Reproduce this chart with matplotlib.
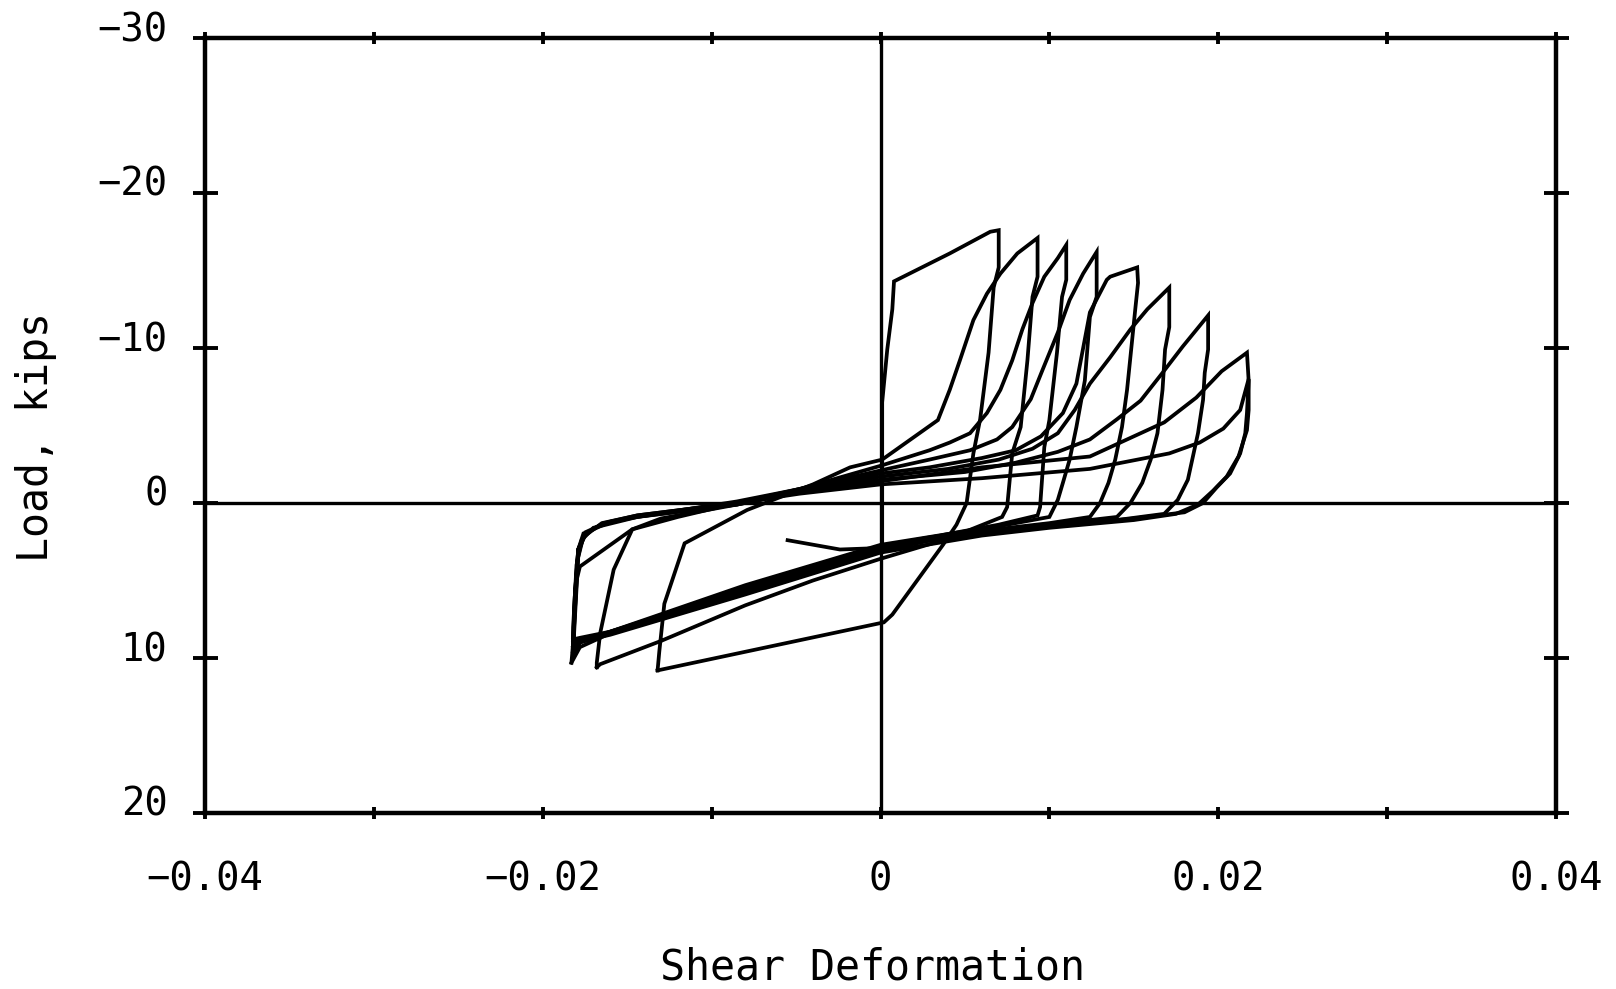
import numpy as np
import matplotlib
matplotlib.use("Agg")
import matplotlib.pyplot as plt
from matplotlib.transforms import ScaledTranslation

# ---- data: shear deformation (x) and load in kips (y), cycle by cycle ----
c1_def  = [-0.0055, -0.0024, 0.0001, 0.0001, 0.0004, 0.0007, 0.0008, 0.0041, 0.0065, 0.0070,
           0.0070, 0.0067, 0.0064, 0.0059, 0.0055, 0.0051, 0.0045, 0.0037, 0.0007, 0.0002, -0.0132]
c1_load = [2.4, 3.0, 2.9, -6.5, -9.9, -12.5, -14.3, -16.1, -17.5, -17.6,
           -15.2, -13.9, -9.7, -5.4, -3.2, 0.0, 1.4, 2.7, 7.2, 7.7, 10.8]

c2_def  = [-0.0132, -0.0131, -0.0128, -0.0116, -0.0079, -0.0040, -0.0018, 0.0001, 0.0034, 0.0041,
           0.0047, 0.0055, 0.0063, 0.0071, 0.0081, 0.0093,
           0.0093, 0.0090, 0.0087, 0.0083, 0.0078, 0.0075, 0.0072,
           0.0040, 0.0000, -0.0040, -0.0080, -0.0130, -0.0166, -0.0168]
c2_load = [10.8, 9.6, 6.5, 2.6, 0.45, -1.2, -2.3, -2.8, -5.35, -7.3,
           -9.2, -11.8, -13.5, -14.8, -16.1, -17.1,
           -14.6, -13.3, -9.2, -4.9, -3.2, 0.26, 0.9,
           2.3, 3.6, 5.0, 6.6, 8.9, 10.4, 10.6]

c3_def  = [-0.0168, -0.0168, -0.0166, -0.0158, -0.0147, -0.0130, -0.0085, -0.0048, 0.0000,
           0.0029, 0.0041, 0.0053, 0.0063, 0.0071, 0.0078, 0.0084, 0.0090, 0.0097, 0.0105, 0.0110,
           0.0110, 0.01075, 0.01045, 0.0100, 0.0097, 0.00945, 0.0093,
           0.0070, 0.0040, 0.0000, -0.0040, -0.0080, -0.0120, -0.0160, -0.0178, -0.0183]
c3_load = [10.6, 10.3, 8.4, 4.3, 1.7, 1.0, 0.1, -0.9, -2.4,
           -3.4, -3.9, -4.5, -5.8, -7.3, -9.2, -11.2, -12.9, -14.6, -15.8, -16.65,
           -14.4, -13.3, -9.7, -5.35, -3.6, 0.26, 0.8,
           1.4, 2.0, 2.9, 4.2, 5.5, 7.0, 8.4, 9.3, 10.3]

c4_def  = [-0.0183, -0.0182, -0.0180, -0.0178, -0.0147, -0.0120, -0.0085, -0.0048, 0.0000,
           0.0029, 0.0053, 0.0069, 0.0078, 0.0089, 0.0096, 0.0105, 0.0112, 0.0120, 0.0128,
           0.0128, 0.0124, 0.0121, 0.0116, 0.0112, 0.0108, 0.0105, 0.0100,
           0.0070, 0.0040, 0.0000, -0.0040, -0.0080, -0.0120, -0.0160, -0.0178, -0.0182]
c4_load = [10.3, 9.0, 5.0, 4.1, 1.7, 0.9, 0.0, -0.9, -2.1,
           -2.8, -3.4, -4.1, -4.9, -6.7, -8.6, -11.0, -13.1, -14.8, -16.2,
           -13.3, -12.0, -7.9, -4.9, -2.8, -1.3, -0.2, 0.9,
           1.5, 2.0, 2.7, 4.0, 5.3, 6.8, 8.3, 9.0, 10.0]

c5_def  = [-0.0182, -0.0182, -0.0180, -0.0177, -0.0170, -0.0144, -0.0085, -0.0048, 0.0000,
           0.0029, 0.0060, 0.0080, 0.0095, 0.0108, 0.0116, 0.0120, 0.0124, 0.0134, 0.0136, 0.0152,
           0.01525, 0.0151, 0.0149, 0.0146, 0.0143, 0.0139, 0.0135, 0.0130, 0.0124,
           0.0100, 0.0060, 0.0030, 0.0000, -0.0040, -0.0080, -0.0120, -0.0160, -0.0178, -0.0182]
c5_load = [10.0, 8.0, 4.0, 2.4, 1.6, 0.9, -0.1, -0.9, -1.9,
           -2.3, -2.9, -3.4, -4.3, -5.8, -7.7, -10.0, -12.3, -14.4, -14.6, -15.2,
           -14.2, -12.65, -10.5, -7.3, -4.9, -2.8, -1.3, 0.0, 0.9,
           1.3, 1.8, 2.2, 2.8, 4.1, 5.4, 6.9, 8.3, 8.9, 9.6]

c6_def  = [-0.0182, -0.0181, -0.0179, -0.0176, -0.0165, -0.0144, -0.0085, -0.0048, 0.0000,
           0.0040, 0.0070, 0.0090, 0.0105, 0.0115, 0.0124, 0.0136, 0.0148, 0.0158, 0.0171,
           0.0171, 0.01685, 0.0167, 0.0164, 0.0160, 0.0155, 0.0148, 0.0140,
           0.0100, 0.0060, 0.0030, 0.0000, -0.0040, -0.0080, -0.0120, -0.0160, -0.0178, -0.0182]
c6_load = [9.6, 7.5, 3.5, 2.2, 1.3, 0.8, 0.0, -0.8, -1.7,
           -2.2, -2.8, -3.5, -4.5, -6.0, -7.7, -9.4, -11.2, -12.5, -13.9,
           -11.35, -9.9, -7.3, -4.5, -2.8, -1.3, 0.0, 0.9,
           1.4, 1.9, 2.3, 2.9, 4.2, 5.6, 7.0, 8.4, 9.0, 9.3]

c7_def  = [-0.0182, -0.0181, -0.0179, -0.0175, -0.0164, -0.0145, -0.0085, -0.0048, 0.0000,
           0.0050, 0.0080, 0.0105, 0.0124, 0.0140, 0.0154, 0.0167, 0.0179, 0.0194,
           0.0194, 0.0192, 0.0191, 0.0188, 0.0185, 0.0182, 0.0176, 0.0168,
           0.0140, 0.0100, 0.0060, 0.0030, 0.0000, -0.0040, -0.0080, -0.0120, -0.0160, -0.0178, -0.0182]
c7_load = [9.3, 7.0, 3.2, 2.0, 1.3, 0.9, 0.1, -0.7, -1.5,
           -2.0, -2.6, -3.3, -4.1, -5.4, -6.6, -8.4, -10.1, -12.1,
           -9.9, -8.4, -6.65, -4.5, -3.0, -1.5, -0.2, 0.7,
           1.1, 1.5, 2.0, 2.4, 3.1, 4.4, 5.7, 7.1, 8.4, 8.9, 9.0]

c8_def  = [-0.0182, -0.0181, -0.0179, -0.0175, -0.0163, -0.0144, -0.0085, -0.0048, 0.0000,
           0.0060, 0.0124, 0.0168, 0.0187, 0.0202, 0.0217,
           0.0218, 0.0217, 0.0216, 0.0213, 0.0207, 0.0199, 0.0191, 0.0180,
           0.0150, 0.0100, 0.0060, 0.0030, 0.0000, -0.0040, -0.0080, -0.0120, -0.0160, -0.0178, -0.0182]
c8_load = [9.0, 6.5, 3.0, 1.9, 1.3, 0.9, 0.1, -0.7, -1.4,
           -2.3, -3.0, -5.2, -6.8, -8.5, -9.7,
           -7.9, -5.8, -4.5, -3.2, -1.9, -1.0, 0.0, 0.6,
           1.0, 1.5, 2.0, 2.4, 3.0, 4.3, 5.6, 7.0, 8.3, 8.7, 8.8]

c9_def  = [-0.0182, -0.0181, -0.0179, -0.0174, -0.0160, -0.0144, -0.0085, -0.0048, 0.0000,
           0.0060, 0.0124, 0.0171, 0.0189, 0.0203, 0.0213, 0.0218,
           0.0218, 0.0217, 0.0212, 0.0205, 0.0197, 0.0188, 0.0175,
           0.0150, 0.0100, 0.0060, 0.0000, -0.0080, -0.0160, -0.0180, -0.0182,
           -0.0181, -0.0179, -0.0176]
c9_load = [8.8, 6.0, 3.0, 1.9, 1.2, 0.8, 0.0, -0.6, -1.2,
           -1.6, -2.2, -3.2, -3.9, -4.8, -6.0, -8.0,
           -6.0, -4.7, -3.0, -1.7, -0.8, 0.1, 0.7,
           1.1, 1.6, 2.1, 3.2, 5.9, 8.5, 9.0, 9.4,
           6.0, 3.0, 2.0]

cycles = [(c1_def, c1_load), (c2_def, c2_load), (c3_def, c3_load), (c4_def, c4_load),
          (c5_def, c5_load), (c6_def, c6_load), (c7_def, c7_load), (c8_def, c8_load),
          (c9_def, c9_load)]

x_ticks = [-0.04, -0.03, -0.02, -0.01, 0.0, 0.01, 0.02, 0.03, 0.04]
x_tick_labels = ["\u22120.04", "", "\u22120.02", "", "0", "", "0.02", "", "0.04"]
y_ticks = [-30, -20, -10, 0, 10, 20]
y_tick_labels = ["\u221230", "\u221220", "\u221210", "0", "10", "20"]

# ---- figure ----
plt.rcParams['font.family'] = ['DejaVu Sans Mono', 'DejaVu Sans']
fig = plt.figure(figsize=(16.16, 9.89), dpi=100)
ax = fig.add_axes([205/1616, 1-813/989, (1556-205)/1616, (813-38)/989])

for xs, ys in cycles:
    ax.plot(xs, ys, color='black', lw=2.7, solid_joinstyle='miter')

ax.axhline(0, color='black', lw=2.4)
ax.axvline(0, color='black', lw=2.4)

ax.set_xlim(-0.04, 0.04)
ax.set_ylim(20, -30)

ax.set_xticks(x_ticks)
ax.set_xticklabels(x_tick_labels)
ax.set_yticks(y_ticks)
ax.set_yticklabels(y_tick_labels)

for sp in ax.spines.values():
    sp.set_linewidth(3.2)

ax.tick_params(axis='x', direction='inout', length=8, width=2.8, top=True,
               labelsize=28, pad=30)
ax.tick_params(axis='y', direction='inout', length=18, width=2.8, right=True,
               labelsize=28, pad=18)

off = ScaledTranslation(0, 12/100, fig.dpi_scale_trans)
for lab in ax.get_yticklabels():
    lab.set_transform(lab.get_transform() + off)

fig.text(872/1616, 1-967/989, "Shear Deformation", ha='center', va='center', fontsize=30)
fig.text(36/1616, 1-437/989, "Load, kips", ha='center', va='center', rotation=90, fontsize=30)

fig.savefig("out.png", dpi=100)
